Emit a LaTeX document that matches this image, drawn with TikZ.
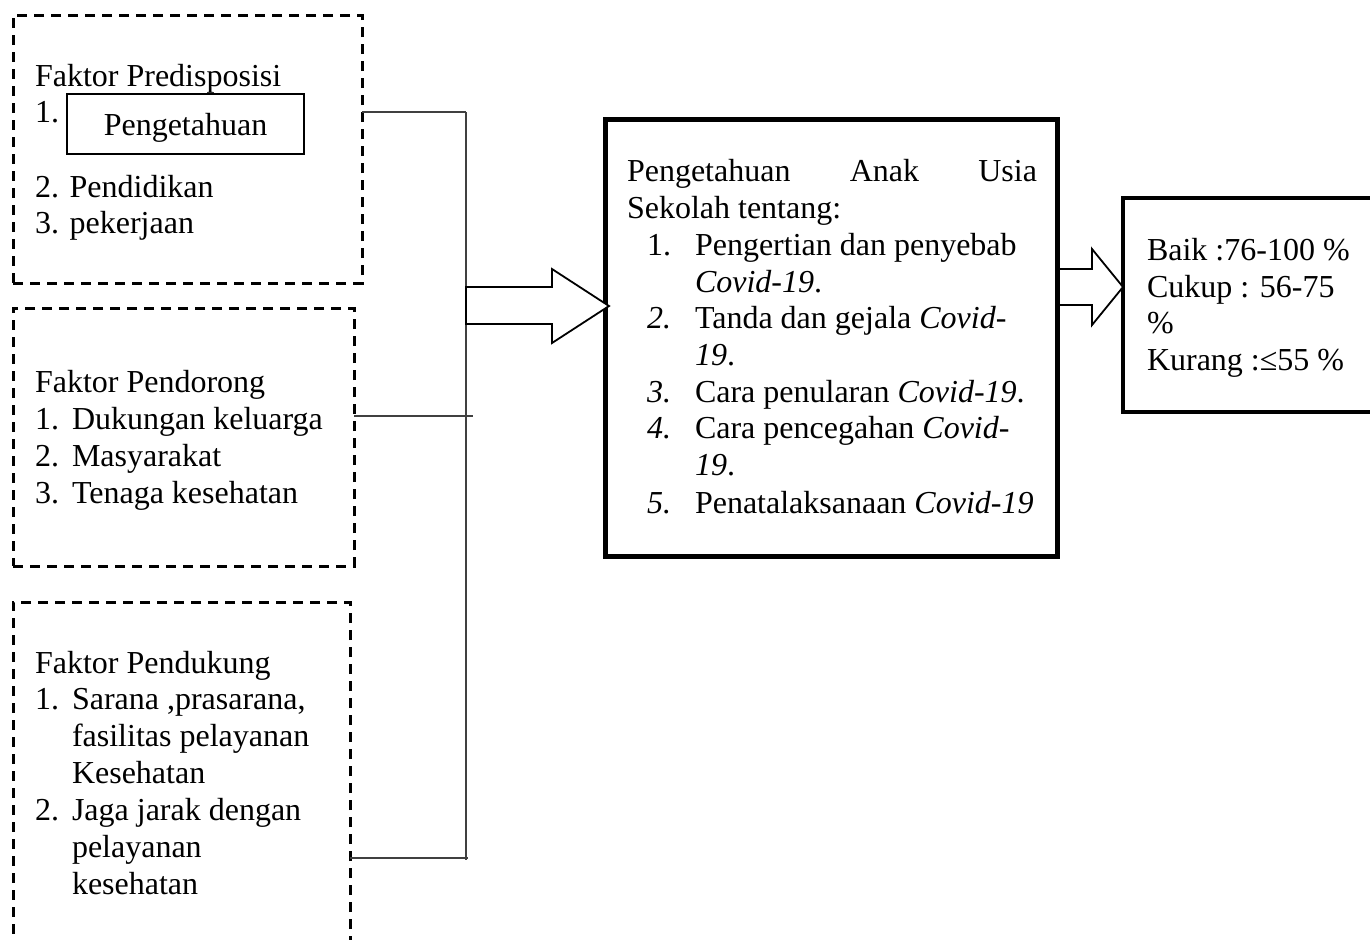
\documentclass[tikz,border=0pt]{standalone}
\usepackage{fontspec}
\setmainfont{Liberation Serif}
\begin{document}
\begin{tikzpicture}[x=0.5pt,y=-0.5pt,
 txt/.style={anchor=base west, inner sep=0pt, outer sep=0pt, font=\fontsize{16}{18.5}\selectfont},
 dbox/.style={draw, dash pattern=on 5pt off 3.5pt, line width=1.5pt, inner sep=0pt, outer sep=0pt},
 sbox/.style={draw, inner sep=0pt, outer sep=0pt},
 conn/.style={draw=black!75, line width=0.8pt},
 barrow/.style={draw, line width=0.9pt, fill=white, line join=miter}
]
\clip (0,0) rectangle (1370,939);
% left dashed boxes
\node[dbox, minimum width=174.5pt, minimum height=134pt] (b1) at (187.5,149) {};
\node[dbox, minimum width=170.5pt, minimum height=129pt] (b2) at (183.5,437) {};
\node[dbox, minimum width=168.5pt, minimum height=199pt] (b3) at (181.5,801) {};
\node[sbox, line width=1.4pt, minimum width=118.5pt, minimum height=30pt] (pk) at (185.5,124) {};
% connectors
\coordinate (j1) at (466,112);
\coordinate (j2) at (473,416);
\coordinate (j3) at (468,858);
\coordinate (sb) at (466,860);
\draw[conn] (b1.east |- j1) -- (j1);
\draw[conn] (b2.east |- j2) -- (j2);
\draw[conn] (b3.east |- j3) -- (j3);
\draw[conn] (j1) -- (sb);
% main boxes
\node[sbox, line width=2.5pt, minimum width=226pt, minimum height=218.5pt] (main) at (831,337.5) {};
\node[sbox, line width=2pt, minimum width=148.5pt, minimum height=107pt] (res) at (1271.5,305) {};
% block arrows
\draw[barrow] (466,287) -- (552,287) -- (552,269) -- (609,306) -- (552,343) -- (552,324) -- (466,324) -- cycle;
\draw[barrow] (1059,269) -- (1092,269) -- (1092,249) -- (1123,287) -- (1092,325) -- (1092,305) -- (1059,305) -- cycle;
% box 1 texts
\node[txt] (a0) at (35,86) {Faktor Predisposisi};
\node[txt] (a1) at (35,122) {1.};
\node[txt, anchor=base] (a1t) at (185.5,135) {Pengetahuan};
\node[txt] (a2) at (35,197) {2. Pendidikan};
\node[txt] (a3) at (35,233) {3. pekerjaan};
% box 2 texts
\node[txt] (c0) at (35,392) {Faktor Pendorong};
\node[txt] (c1n) at (35,429) {1.};
\node[txt] (c1) at (72,429) {Dukungan keluarga};
\node[txt] (c2n) at (35,466) {2.};
\node[txt] (c2) at (72,466) {Masyarakat};
\node[txt] (c3n) at (35,503) {3.};
\node[txt] (c3) at (72,503) {Tenaga kesehatan};
% box 3 texts
\node[txt] (d0) at (35,673) {Faktor Pendukung};
\node[txt] (d1n) at (35,709) {1.};
\node[txt] (d1) at (72,709) {Sarana ,prasarana,};
\node[txt] (d1b) at (72,746) {fasilitas pelayanan};
\node[txt] (d1c) at (72,783) {Kesehatan};
\node[txt] (d2n) at (35,820) {2.};
\node[txt] (d2) at (72,820) {Jaga jarak dengan};
\node[txt] (d2b) at (72,857) {pelayanan};
\node[txt] (d2c) at (72,894) {kesehatan};
% main box texts
\node[txt] (m0) at (627,181) {\makebox[205pt][s]{Pengetahuan Anak Usia}};
\node[txt] (m0b) at (627,218) {Sekolah tentang:};
\node[txt] (m1n) at (647,255) {1.};
\node[txt] (m1) at (695,255) {Pengertian dan penyebab};
\node[txt] (m1b) at (695,292) {\itshape Covid-19\upshape .};
\node[txt] (m2n) at (647,328) {\itshape 2.};
\node[txt] (m2) at (695,328) {Tanda dan gejala \textit{Covid-}};
\node[txt] (m2b) at (695,365) {\itshape 19\upshape .};
\node[txt] (m3n) at (647,402) {\itshape 3.};
\node[txt] (m3) at (695,402) {Cara penularan \textit{Covid-19}.};
\node[txt] (m4n) at (647,438) {\itshape 4.};
\node[txt] (m4) at (695,438) {Cara pencegahan \textit{Covid-}};
\node[txt] (m4b) at (695,475) {\itshape 19\upshape .};
\node[txt] (m5n) at (647,513) {\itshape 5.};
\node[txt] (m5) at (695,513) {Penatalaksanaan \textit{Covid-19}};
% result box texts
\node[txt] (r1) at (1147,260) {Baik :76-100 \%};
\node[txt] (r2) at (1147,297) {Cukup : 56-75};
\node[txt] (r3) at (1147,333) {\%};
\node[txt] (r4) at (1147,370) {Kurang :≤55 \%};
\end{tikzpicture}
\end{document}
